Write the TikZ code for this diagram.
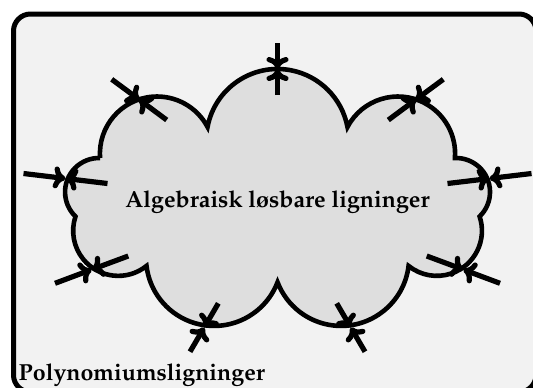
\documentclass[tikz,border=0pt]{standalone}
\usepackage[T1]{fontenc}
\usetikzlibrary{arrows.meta}
\definecolor{panelgray}{HTML}{F2F2F2}
\definecolor{cloudgray}{HTML}{DEDEDE}
\tikzset{
  panel/.style={line width=2.5pt, draw=black, fill=panelgray, rounded corners=8.5pt},
  cloudline/.style={line width=2.3pt, draw=black, fill=cloudgray, line join=miter},
  marker/.style={line width=2.6pt, -{To[length=6pt,width=11pt]}},
  setname/.style={inner sep=0pt, font=\fontfamily{ppl}\fontsize{11.6pt}{14pt}\selectfont\bfseries}
}
\begin{document}
\begin{tikzpicture}[x=0.5pt,y=-0.5pt]
\useasboundingbox (0,0) rectangle (533,387);
\clip (0,0) rectangle (533,387);
\fill[white] (0,0) rectangle (533,387);

% outer set: polynomial equations
\draw[panel] (13.5,14) rectangle (536,392);

% inner set: a cloud of nine circular puffs
\coordinate (c1) at (100.1,158.0);
\draw[cloudline] (c1)
  arc[start angle=175.58, end angle=332.22, radius=57.1]
  arc[start angle=190.68, end angle=349.32, radius=71.2]
  arc[start angle=207.78, end angle=364.42, radius=57.1]
  arc[start angle=268.15, end angle=406.07, radius=34]
  arc[start angle=-18.48, end angle=128.80, radius=45.1]
  arc[start angle=6.76,   end angle=159.06, radius=68]
  arc[start angle=20.94,  end angle=173.24, radius=68]
  arc[start angle=51.2,   end angle=198.48, radius=45.1]
  arc[start angle=133.93, end angle=271.85, radius=34] -- cycle;

% boundary markers: two tips meeting on the cloud outline
\coordinate (t-out) at (277.5,43);    \coordinate (t-in) at (277.5,95);    \coordinate (t-mid) at (277.5,69);
\coordinate (tl-out) at (111.7,79.3); \coordinate (tl-in) at (166.7,120);  \coordinate (tl-mid) at (139.2,99.6);
\coordinate (tr-out) at (443.3,79.3); \coordinate (tr-in) at (388.3,120);  \coordinate (tr-mid) at (415.8,99.6);
\coordinate (l-out) at (23.5,173.5);  \coordinate (l-in) at (107.5,183.5); \coordinate (l-mid) at (65.5,178.5);
\coordinate (r-out) at (531.5,173.5); \coordinate (r-in) at (447.5,183.5); \coordinate (r-mid) at (489.5,178.5);
\coordinate (ll-out) at (55,283.3);   \coordinate (ll-in) at (128.3,256);  \coordinate (ll-mid) at (91.6,269.6);
\coordinate (lr-out) at (500,283.3);  \coordinate (lr-in) at (426.7,256);  \coordinate (lr-mid) at (463.4,269.6);
\coordinate (bl-out) at (190,351.7);  \coordinate (bl-in) at (218.3,303.3);\coordinate (bl-mid) at (204.2,327.5);
\coordinate (br-out) at (365,351.7);  \coordinate (br-in) at (336.7,303.3);\coordinate (br-mid) at (350.8,327.5);

\foreach \m in {t,tl,tr,l,r,ll,lr,bl,br} {
  \draw[marker] (\m-out) -- (\m-mid);
  \draw[marker] (\m-in) -- (\m-mid);
}

% set names
\node[setname, anchor=base] (inner) at (277.5,207.3) {Algebraisk l{\o}sbare ligninger};
\node[setname, anchor=base west] (outer) at (18.3,380) {Polynomiumsligninger};
\end{tikzpicture}
\end{document}
